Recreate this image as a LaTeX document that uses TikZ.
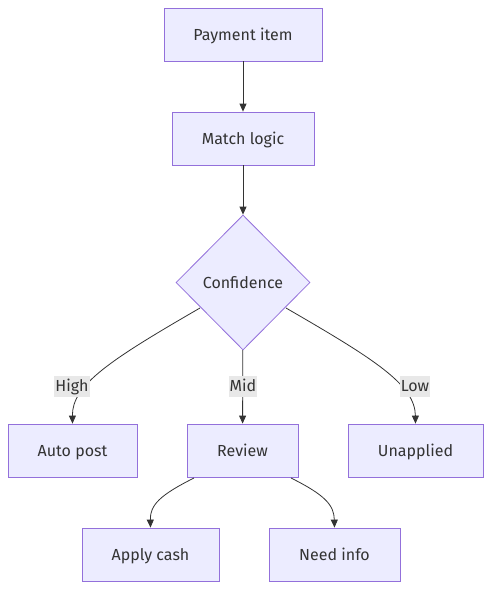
\documentclass[tikz,border=0pt]{standalone}
\usepackage{fontspec}
\setmainfont{Fira Sans}
\usetikzlibrary{shapes.geometric,arrows.meta}
\definecolor{nodefill}{HTML}{ECECFF}
\definecolor{nodeline}{HTML}{9370DB}
\definecolor{txt}{HTML}{333333}
\definecolor{lblbg}{HTML}{E8E8E8}
\tikzset{
  box/.style={draw=nodeline, fill=nodefill, line width=0.8pt, text=txt, minimum height=53pt, inner sep=0pt, text height=12pt, text depth=1pt, font=\fontsize{16}{19}\selectfont},
  dec/.style={draw=nodeline, fill=nodefill, line width=0.8pt, text=txt, diamond, minimum width=134pt, minimum height=135pt, inner sep=0pt, text height=12pt, text depth=1pt, font=\fontsize{16}{19}\selectfont},
  edge/.style={draw=txt, line width=0.8pt, -{Triangle[length=8pt,width=7pt]}},
  lbl/.style={fill=lblbg, text=txt, inner xsep=1pt, inner ysep=3.5pt, text height=12pt, text depth=2pt, font=\fontsize{16}{19}\selectfont}
}
\begin{document}
\begin{tikzpicture}[x=1pt,y=-1pt]
\useasboundingbox (0,0) rectangle (492,590);
\node[box, minimum width=158pt] (pay) at (243,34.5) {Payment item};
\node[box, minimum width=142pt] (match) at (243,138.5) {Match logic};
\node[dec] (conf) at (243,282.5) {Confidence};
\node[box, minimum width=129pt] (auto) at (72.5,450.5) {Auto post};
\node[box, minimum width=111pt] (rev) at (242.5,450.5) {Review};
\node[box, minimum width=135pt] (unap) at (415.5,450.5) {Unapplied};
\node[box, minimum width=137pt] (apply) at (150.5,554.5) {Apply cash};
\node[box, minimum width=131pt] (need) at (334.5,554.5) {Need info};
\coordinate (cl) at (200,308);
\coordinate (cr) at (286,308);
\draw[edge] (pay) -- (match);
\draw[edge] (match) -- (conf);
\draw[edge] (cl) .. controls (110,360) and (72,385) .. (auto.north);
\draw[edge] (conf) -- (rev);
\draw[edge] (cr) .. controls (376,360) and (415,385) .. (unap.north);
\node[lbl] (lh) at (72,386.5) {High};
\node[lbl] (lm) at (243,386.5) {Mid};
\node[lbl] (ll) at (415,386.5) {Low};
\coordinate (rl) at (194,478);
\coordinate (rr) at (291,478);
\draw[edge] (rl) .. controls (160,495) and (150,505) .. (apply.north);
\draw[edge] (rr) .. controls (325,495) and (334,505) .. (need.north);
\end{tikzpicture}
\end{document}
